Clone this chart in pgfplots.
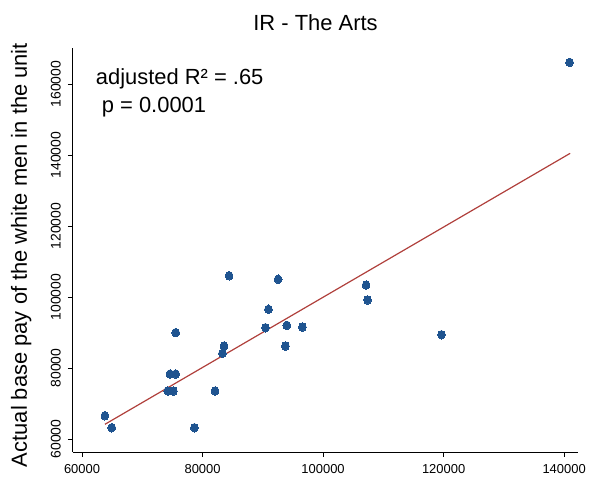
\documentclass[border=0pt]{standalone}
\usepackage{fontspec}
\setmainfont{Liberation Sans}
\usepackage{pgfplots}
\pgfplotsset{compat=1.18}
\definecolor{dotblue}{HTML}{1F5490}
\definecolor{fitred}{HTML}{B0403C}
\begin{document}
\begin{tikzpicture}
\useasboundingbox (-73bp,-29bp) rectangle (520bp,452bp);
\begin{axis}[
    at={(0,0)}, anchor=south west,
    scale only axis,
    width=505bp, height=404bp,
    xmin=58500, xmax=142300,
    ymin=56340, ymax=170150,
    axis x line*=bottom, axis y line*=left,
    axis line style={black, line width=1bp},
    xtick={60000,80000,100000,120000,140000},
    xticklabels={60000,80000,100000,120000,140000},
    ytick={60000,80000,100000,120000,140000,160000},
    yticklabels={60000,80000,100000,120000,140000,160000},
    tick align=outside,
    major tick length=5bp,
    tick style={black, line width=0.8bp},
    scaled ticks=false,
    xticklabel style={font=\fontsize{13}{13}\selectfont, inner sep=0pt, yshift=-7.5bp},
    % shift is in the rotated frame: yshift moves the label to the left
    yticklabel style={font=\fontsize{14}{14}\selectfont, rotate=90, anchor=south, inner sep=0pt, yshift=7bp},
]
\addplot[only marks, color=dotblue, mark=*, mark size=4.3bp,
    mark options={fill=dotblue, draw=dotblue, line width=0pt, xscale=0.9}]
    coordinates {
    (63800,66560)(64930,63180)(78640,63180)(82080,73520)
    (74230,73520)(75160,73520)(74600,78300)(75550,78300)
    (75550,89950)(83300,84140)(83570,86200)(84400,106000)
    (90430,91350)(90930,96540)(92540,105000)(93980,92030)
    (93750,86200)(96570,91550)(107140,103380)(107370,99160)
    (119650,89380)(140900,166100)
    };
% fitted line
\addplot[fitred, line width=1.2bp, no marks]
    coordinates {(63800,64140)(141000,140480)};
\end{axis}
\node[anchor=base, font=\fontsize{22}{22}\selectfont] at (242.5bp,421.3bp) {IR - The Arts};
\node[anchor=base, rotate=90, font=\fontsize{22}{22}\selectfont] at (-46bp,197bp)
    {Actual base pay of the white men in the unit};
\node[anchor=base west, inner sep=0pt, font=\fontsize{22}{22}\selectfont] at (22.7bp,367.7bp) {adjusted R² = .65};
\node[anchor=base west, inner sep=0pt, font=\fontsize{22}{22}\selectfont] at (28.7bp,339.3bp) {p = 0.0001};
\end{tikzpicture}
\end{document}
